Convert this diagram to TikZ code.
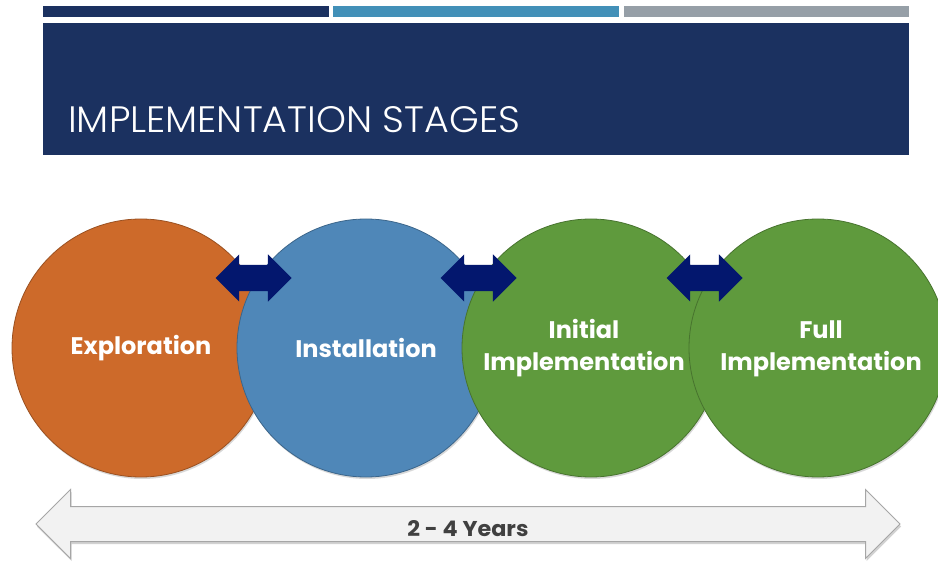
\documentclass[tikz,border=0pt]{standalone}
\usepackage{fontspec}
\setmainfont{Poppins}
\newfontfamily\titlefont{Poppins}[UprightFont=* Light]
\usetikzlibrary{shapes.arrows,shadows,calc}

\definecolor{headnavy}{HTML}{1B3160}
\definecolor{barblue}{HTML}{4290B8}
\definecolor{bargray}{HTML}{969FA7}
\definecolor{stageorange}{HTML}{CD6A2A}
\definecolor{stageblue}{HTML}{4F87B8}
\definecolor{stagegreen}{HTML}{5F9A3D}
\definecolor{linknavy}{HTML}{03176E}
\definecolor{spanfill}{HTML}{F2F2F2}
\definecolor{spanline}{HTML}{A6A6A6}
\definecolor{spantext}{HTML}{404040}

% two centred lines with a little extra leading
\newcommand{\twolines}[2]{{\renewcommand{\arraystretch}{1.1}\begin{tabular}{@{}c@{}}#1\\#2\end{tabular}}}

\begin{document}
\begin{tikzpicture}[x=1pt,y=-1pt,
  stage/.style={circle, minimum size=258pt, inner sep=0pt, text=white,
    font=\bfseries\fontsize{24}{29}\selectfont, align=center, line width=0.8pt,
    fill=#1, draw=#1!75!black,
    drop shadow={shadow xshift=1pt, shadow yshift=-2pt, opacity=0.3}},
  link/.style={double arrow, fill=linknavy, draw=none, inner sep=0pt,
    text height=26pt, text depth=0pt, text width=0pt,
    minimum width=47pt, minimum height=76pt, double arrow head extend=10.5pt},
  span/.style={double arrow, fill=spanfill, draw=spanline, line width=1pt,
    inner sep=0pt, text height=29pt, text depth=5pt,
    minimum width=68pt, minimum height=864pt,
    double arrow head extend=17pt, text=spantext,
    drop shadow={shadow xshift=1pt, shadow yshift=-2.5pt, opacity=0.35}}
]
\useasboundingbox (0,0) rectangle (938,564);
\fill[white] (0,0) rectangle (938,564);

% coloured strips above the heading
\fill[headnavy] (43,6) rectangle (329,17);
\fill[barblue]  (333,6) rectangle (619,17);
\fill[bargray]  (624,6) rectangle (909,17);

% heading band
\fill[headnavy] (43,23) rectangle (909,155);
\node[anchor=base west, inner sep=0pt, text=white] (title) at (68,133)
  {\resizebox{452pt}{26pt}{\titlefont IMPLEMENTATION STAGES}};

% stages
\node[stage=stageorange] (expl) at (141,348) {Exploration};
\node[stage=stageblue]   (inst) at (366,348) {Installation};
\node[stage=stagegreen]  (init) at (591,348) {\hspace*{-14pt}\twolines{Initial}{Implementation}};
\node[stage=stagegreen]  (full) at (818,348) {\twolines{Full}{Implementation}\hspace*{-6pt}};

% links between neighbouring stages
\node[link] (l1) at ($(expl.center)!.5!(inst.center)+(0,-70)$) {};
\node[link] (l2) at ($(inst.center)!.5!(init.center)+(0,-70)$) {};
\node[link] (l3) at ($(init.center)!.5!(full.center)+(0,-70)$) {};

% overall time span
\node[span] (span) at (468,524)
  {\resizebox{121pt}{16pt}{\bfseries 2 - 4 Years}};
\end{tikzpicture}
\end{document}
